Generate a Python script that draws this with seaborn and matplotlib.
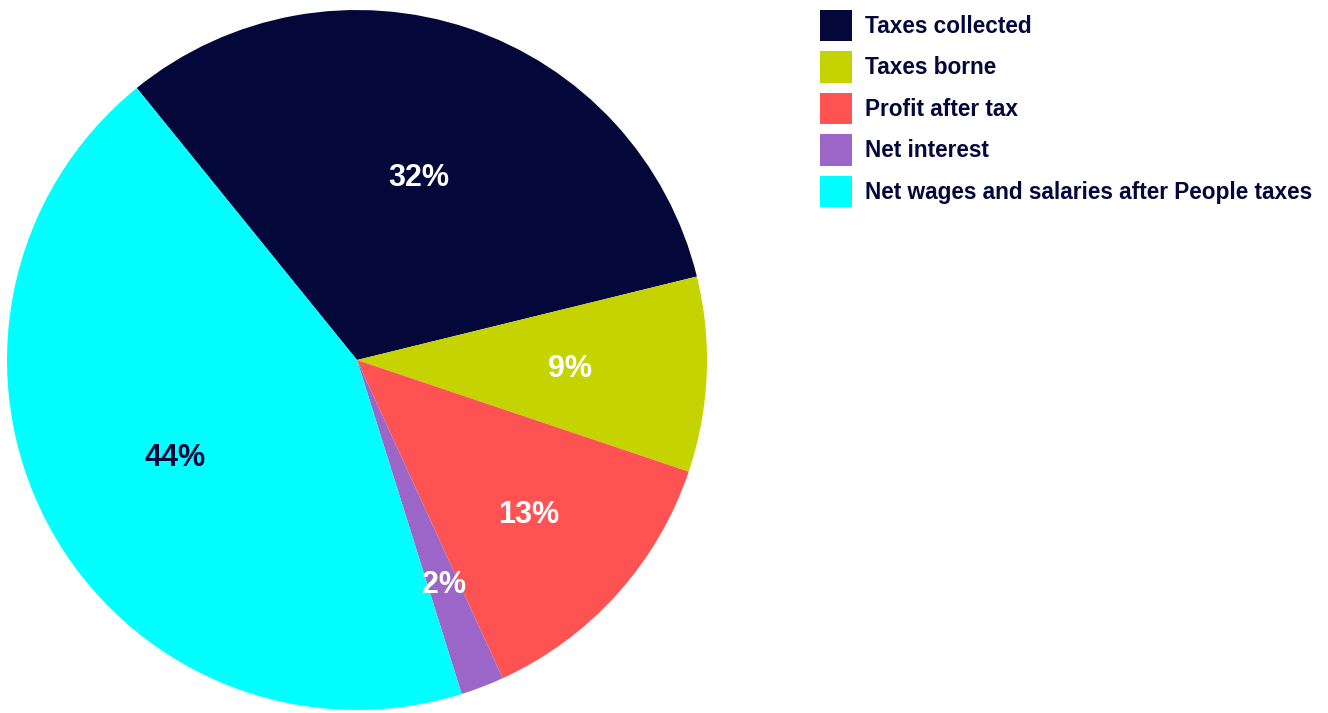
import matplotlib
matplotlib.use("Agg")
import matplotlib.pyplot as plt
import seaborn as sns
import numpy as np
from matplotlib.patches import Patch

categories = ["Taxes collected", "Taxes borne", "Profit after tax", "Net interest",
              "Net wages and salaries after People taxes"]
shares = [32, 9, 13, 2, 44]
colors = ["#03073A", "#C5D400", "#FF5353", "#9C65C8", "#00FFFF"]
label_colors = ["white", "white", "white", "white", "#03073A"]
label_radius = [0.55, 0.61, 0.66, 0.69, 0.59]

sns.set_theme(style="white")
plt.rcParams['font.family'] = ['Liberation Sans', 'DejaVu Sans']

W, H = 1328, 713
fig = plt.figure(figsize=(W / 100, H / 100), dpi=100)
cx, cy, r = 357, 360, 350
ax = fig.add_axes([(cx - r) / W, (H - cy - r) / H, 2 * r / W, 2 * r / H])

wedges, texts, autotexts = ax.pie(
    shares, colors=colors, startangle=129, counterclock=False, radius=1,
    autopct=lambda p: f"{p:.0f}%", pctdistance=0.62,
    wedgeprops=dict(linewidth=0),
    textprops=dict(fontsize=22, fontweight="bold"))
for w, t, c, rr in zip(wedges, autotexts, label_colors, label_radius):
    t.set_color(c)
    mid = np.deg2rad((w.theta1 + w.theta2) / 2)
    t.set_position((rr * np.cos(mid), rr * np.sin(mid)))
ax.set_xlim(-1, 1)
ax.set_ylim(-1, 1)
ax.set_aspect("equal")
ax.axis("off")

handles = [Patch(facecolor=c, edgecolor="none") for c in colors]
leg = fig.legend(handles, categories, loc="upper left",
                 bbox_to_anchor=(820 / W, (H - 10) / H), frameon=False,
                 borderpad=0, borderaxespad=0, handlelength=1.4, handleheight=1.75,
                 handletextpad=0.6, labelspacing=0.45,
                 prop=dict(size=16.3, weight="bold"))
for t in leg.get_texts():
    t.set_color("#03073A")

fig.savefig("out.png", dpi=100, facecolor="white")
